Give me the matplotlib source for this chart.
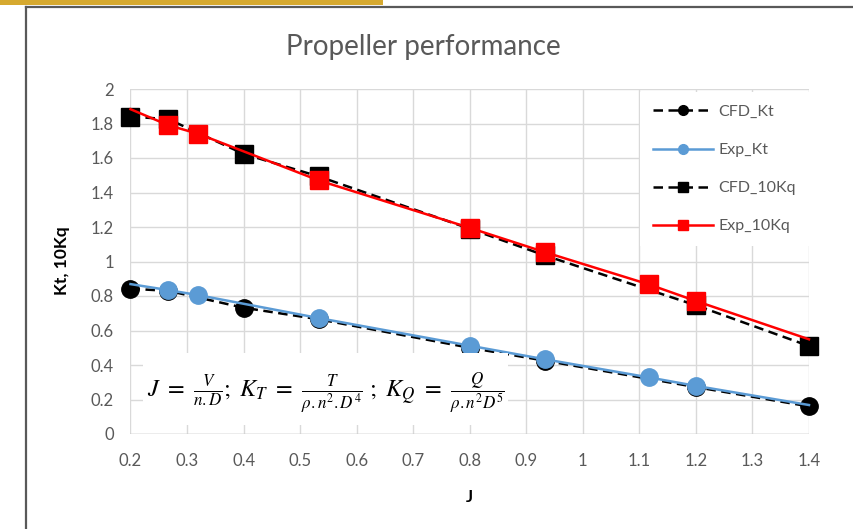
import matplotlib
matplotlib.use("Agg")
import matplotlib.pyplot as plt
from matplotlib.lines import Line2D
from matplotlib.patches import Rectangle

# ---- data ----
J_cfd = [0.2, 0.267, 0.4, 0.533, 0.8, 0.933, 1.2, 1.4]
cfd_kt = [0.842, 0.830, 0.732, 0.665, 0.500, 0.425, 0.272, 0.160]
cfd_10kq = [1.840, 1.825, 1.624, 1.493, 1.190, 1.035, 0.746, 0.510]

J_exp = [0.2, 0.267, 0.32, 0.533, 0.8, 0.933, 1.117, 1.2, 1.4]
exp_kt = [0.869, 0.834, 0.805, 0.672, 0.512, 0.433, 0.328, 0.279, 0.168]
exp_10kq = [1.883, 1.790, 1.740, 1.470, 1.195, 1.054, 0.867, 0.771, 0.549]
exp_marked = [1, 2, 3, 4, 5, 6, 7]  # marker indices (line ends carry no marker)

x_ticks = [0.2, 0.3, 0.4, 0.5, 0.6, 0.7, 0.8, 0.9, 1.0, 1.1, 1.2, 1.3, 1.4]
x_ticklabels = ["0.2", "0.3", "0.4", "0.5", "0.6", "0.7", "0.8", "0.9", "1", "1.1", "1.2", "1.3", "1.4"]
y_ticks = [0, 0.2, 0.4, 0.6, 0.8, 1.0, 1.2, 1.4, 1.6, 1.8, 2.0]
y_ticklabels = ["0", "0.2", "0.4", "0.6", "0.8", "1", "1.2", "1.4", "1.6", "1.8", "2"]

title = "Propeller performance"
xlabel = "J"
ylabel = "Kt, 10Kq"
names = ["CFD_Kt", "Exp_Kt", "CFD_10Kq", "Exp_10Kq"]

# ---- figure ----
W, H = 854, 529
fig = plt.figure(figsize=(W / 100, H / 100), dpi=100)
plt.rcParams['mathtext.fontset'] = 'stix'
FONT = "Lato"
GRAY = "#595959"

def fx(px):
    return px / W

def fy(py):
    return 1 - py / H

ax = fig.add_axes([fx(130.5), fy(434), fx(809) - fx(130.5), fy(89) - fy(434)])
ax.set_xlim(0.2, 1.4)
ax.set_ylim(0, 2)
ax.set_xticks(x_ticks)
ax.set_xticklabels(x_ticklabels)
ax.set_yticks(y_ticks)
ax.set_yticklabels(y_ticklabels)
for s in ax.spines.values():
    s.set_visible(False)
ax.grid(True, color="#D9D9D9", lw=1.0, zorder=0)
ax.set_axisbelow(True)
ax.tick_params(axis="x", length=0, colors=GRAY, labelsize=12, pad=14)
ax.tick_params(axis="y", length=0, colors=GRAY, labelsize=12, pad=12)
for lab in ax.get_xticklabels() + ax.get_yticklabels():
    lab.set_fontfamily(FONT)
ax.axhline(0, color="#BFBFBF", lw=1.0, zorder=1)

dash = (3.8, 2.2)
ms = 12.5
ax.plot(J_cfd, cfd_kt, color="black", lw=1.8, ls=(0, dash), marker="o", ms=ms, zorder=2, clip_on=False)
ax.plot(J_exp, exp_kt, color="#5B9BD5", lw=1.8, marker="o", ms=ms, markevery=exp_marked, zorder=3, clip_on=False)
ax.plot(J_cfd, cfd_10kq, color="black", lw=1.8, ls=(0, dash), marker="s", ms=ms, zorder=2, clip_on=False)
ax.plot(J_exp, exp_10kq, color="#FF0000", lw=1.8, marker="s", ms=ms, markevery=exp_marked, zorder=3, clip_on=False)

# legend
handles = [
    Line2D([], [], color="black", lw=1.8, ls=(0, dash), marker="o", ms=7),
    Line2D([], [], color="#5B9BD5", lw=1.8, marker="o", ms=7),
    Line2D([], [], color="black", lw=1.8, ls=(0, dash), marker="s", ms=7),
    Line2D([], [], color="#FF0000", lw=1.8, marker="s", ms=7),
]
leg = fig.legend(handles, names, loc="upper left", bbox_to_anchor=(fx(640), fy(92)),
                 frameon=True, fancybox=False, framealpha=1, edgecolor="none",
                 facecolor="white", handlelength=3.8, handletextpad=0.3,
                 labelspacing=1.5, borderpad=0.8, borderaxespad=0,
                 prop={"family": FONT, "size": 11.5})
for t in leg.get_texts():
    t.set_color(GRAY)

# equation box
box = Rectangle((fx(143), fy(425)), fx(508) - fx(143), fy(353) - fy(425),
                transform=fig.transFigure, facecolor="white", edgecolor="none", zorder=4)
ax.add_patch(box)
box.set_clip_on(False)
eq = r"$J\ =\ \frac{V}{n.D};\ K_T\ =\ \frac{T}{\rho.n^2.D^4}\ ;\ K_Q\ =\ \frac{Q}{\rho.n^2D^5}$"
fig.text(fx(326), fy(394), eq, ha="center", va="center", fontsize=17.5, color="black", zorder=6)

# title and labels
fig.text(fx(423), fy(47), title, ha="center", va="center", fontsize=20, color=GRAY, family=FONT)
fig.text(fx(469), fy(497), xlabel, ha="center", va="center", fontsize=12, fontweight="bold",
         color="black", family=FONT)
fig.text(fx(62), fy(261), ylabel, ha="center", va="center", fontsize=12.5, fontweight="bold",
         color="black", family=FONT, rotation=90)

# chart frame and decoration
fig.add_artist(Rectangle((0, fy(4.5)), fx(383), fy(0) - fy(4.5), transform=fig.transFigure,
                         facecolor="#D6A92F", edgecolor="none"))
fig.add_artist(Line2D([fx(26), fx(26)], [fy(7), 0], transform=fig.transFigure, color=GRAY, lw=1.6))
fig.add_artist(Line2D([fx(26), 1], [fy(7), fy(7)], transform=fig.transFigure, color=GRAY, lw=1.6))

fig.savefig("out.png", dpi=100)
